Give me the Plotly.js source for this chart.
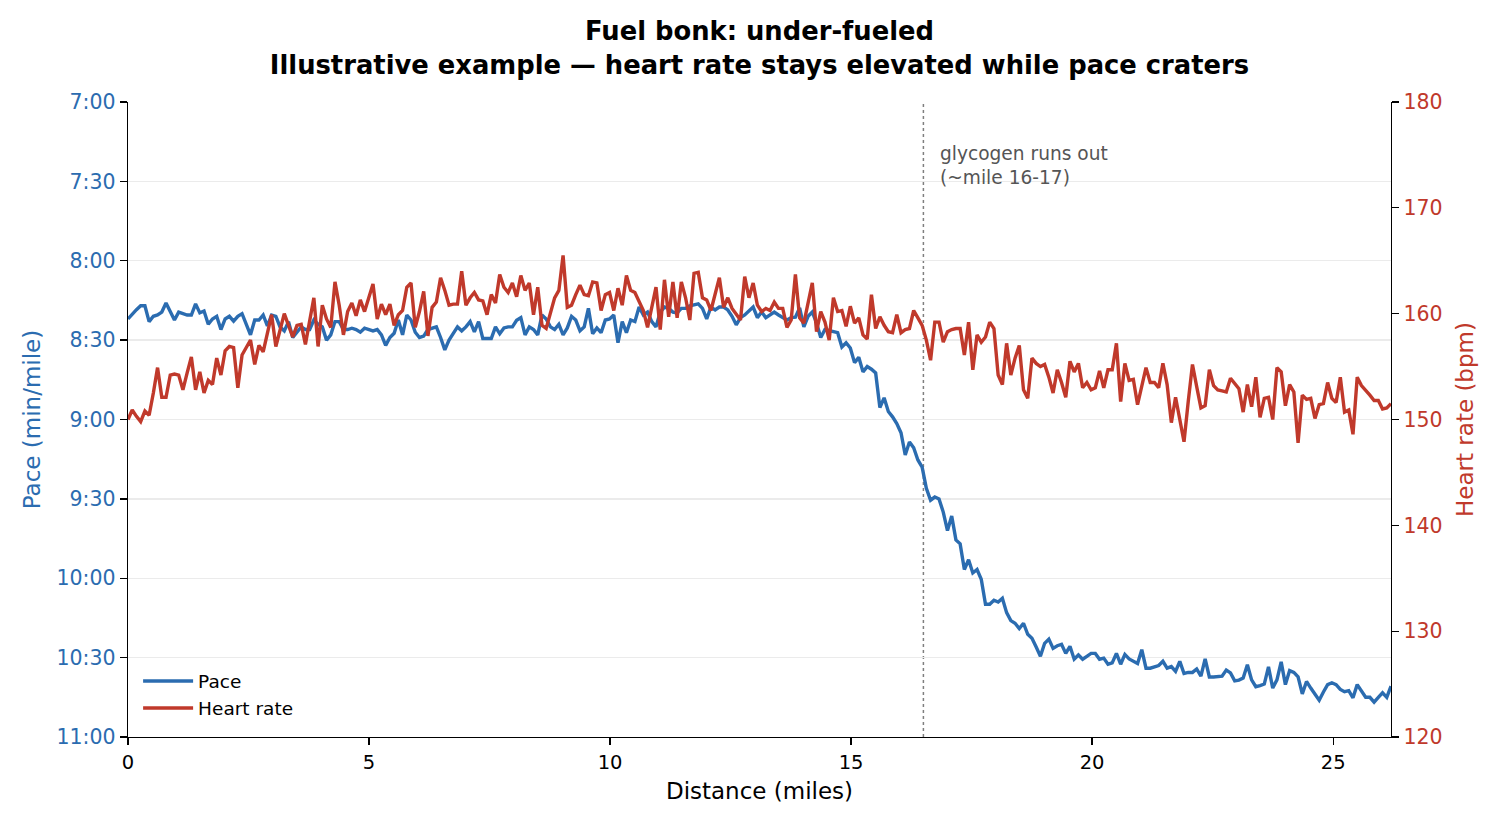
<!DOCTYPE html>
<html>
<head>
<meta charset="utf-8">
<script src="https://cdn.plot.ly/plotly-3.0.1.min.js"></script>
<style>
  html, body { margin: 0; padding: 0; background: #ffffff; }
  #chart { width: 1500px; height: 825px; }
</style>
</head>
<body>
<div id="chart"></div>
<script>
// Marathon course length (miles); samples are spread evenly over it.
const COURSE_MILES = 26.2;

// Pace in seconds per mile, one value per sample.
const paceSec = [
  502, 500, 498.5, 497, 497, 503, 501, 500.5, 499.4, 496,
  499, 502.4, 499.4, 500, 500.5, 500.5, 496.3, 499.7, 499, 504,
  502, 501, 506, 502, 501, 502.8, 501, 500, 504, 508,
  502.4, 502.4, 500.5, 504.6, 500.5, 501, 505, 506.5, 503, 509,
  507, 505, 506, 506, 502.4, 504, 505, 510, 508, 503,
  503, 506, 506, 505.5, 506, 507, 505.5, 506, 506.5, 506,
  508, 512, 509, 507.4, 502.4, 508, 500.5, 502.4, 507, 509,
  508.5, 506, 505.5, 505, 509, 513.7, 510, 507.6, 505, 506.5,
  505, 503, 506.9, 503, 509.4, 509.4, 509.4, 505, 507.6, 505.4,
  505, 505, 502.5, 501.5, 508, 505, 506, 508, 500.5, 502,
  505, 506, 504, 508, 505.4, 501, 502.4, 506.5, 505, 498,
  507.6, 505.4, 507.2, 502.4, 502, 500.5, 511, 503, 507.2, 502.4,
  503, 497.5, 500.5, 499.4, 503, 505, 499.4, 497.5, 498, 499.4,
  499.7, 498, 498, 497, 496.5, 496.3, 498, 502, 497.5, 498.6,
  497.5, 497.5, 498.6, 501, 504.2, 501.5, 500.5, 499, 497.5, 501.5,
  499.4, 501.5, 500.5, 499.4, 500.5, 501.3, 502.4, 501.5, 501.3, 497.8,
  505, 501, 499.4, 503.5, 509, 506, 506.5, 506.9, 507.2, 512.6,
  511, 513, 518.5, 516.5, 522, 520, 521, 522.4, 535.5, 531.8,
  537, 539, 541.5, 545, 553.4, 548.5, 550.7, 555.3, 558, 566,
  570.5, 569.3, 570, 575, 582, 576.5, 585.5, 587, 596.7, 593,
  598, 596.7, 600.4, 609.8, 609.8, 608.3, 609, 607.6, 613, 616,
  617, 619, 617, 621.2, 622.7, 626, 629.5, 624.6, 623, 626.5,
  625.5, 625, 628.4, 625.7, 630.6, 629, 630.6, 629.5, 628.4, 628.4,
  630.6, 630.2, 632.5, 632, 628.4, 632.5, 628.8, 630.5, 631.4, 632.2,
  627, 634, 634, 633.5, 633, 631.4, 634, 633.4, 635.2, 631.4,
  636, 635.6, 635.6, 634.3, 637, 630.5, 637.3, 637.3, 637.3, 637,
  634.7, 635.8, 638.8, 638.5, 637.7, 632.7, 638.4, 641, 640.6, 640,
  633.5, 641.5, 638.4, 631.6, 640.2, 634.9, 635.6, 637.3, 643.7, 639,
  641.5, 644, 646.1, 643, 640.2, 639.5, 640.2, 642, 642.9, 642.5,
  645.2, 640.2, 642.5, 645, 645, 646.8, 645, 643.3, 645, 640.8
];

// Heart rate in beats per minute, one value per sample.
const heartRate = [
  150, 150.9, 150.3, 149.8, 150.8, 150.4, 152.5, 154.9, 152.1, 152.1,
  154.2, 154.3, 154.2, 152.8, 154.4, 155.9, 152.8, 154.5, 152.5, 153.7,
  153.3, 155.8, 154.2, 156.5, 156.9, 156.8, 153, 156.1, 156.8, 157.5,
  155.2, 157, 156.4, 158, 159.9, 156.9, 158.5, 160, 158.9, 157.8,
  158.9, 159, 157.1, 159.5, 161.5, 156.9, 160.8, 159.5, 158.7, 163,
  160.8, 158, 160.2, 161, 159.8, 161.3, 160.2, 161.5, 162.8, 159.5,
  160.9, 159.9, 160.9, 158.9, 159.9, 160.3, 162.5, 162.9, 158.7, 160.2,
  162.1, 157.9, 160.6, 161.1, 163.4, 162.2, 160.8, 160.9, 160.9, 164,
  160.8, 161.5, 162, 161.3, 161.2, 159.9, 161.8, 161, 163.7, 162.5,
  162, 162.9, 161.6, 163.6, 162.2, 162.9, 159.9, 162.5, 158.9, 158.6,
  160, 161.5, 162.2, 165.5, 160.6, 160.8, 161.8, 162.7, 161.8, 161.7,
  163, 162.9, 160.3, 161.8, 162, 160.3, 162.4, 160.8, 163.6, 162.2,
  162, 161.1, 160.3, 158.7, 160.6, 162.5, 158.5, 163.2, 159.7, 163,
  159.6, 163, 161.5, 159.4, 163.8, 163.9, 161.5, 161.3, 160.3, 161.8,
  163.4, 160.6, 161.5, 160.5, 160, 159.4, 163.5, 161.5, 162.9, 160.8,
  160.2, 160.5, 160.3, 161.1, 160.5, 160.5, 158.7, 159.4, 163.7, 159.6,
  159.1, 161, 162.9, 158.3, 160.2, 159.2, 157.5, 161.5, 160.2, 160.3,
  158.8, 160.7, 159.1, 159.6, 158, 157.6, 161.8, 158.6, 159.7, 158.9,
  158.3, 158.2, 159.9, 158.2, 158.5, 158.6, 160.3, 159.6, 158.9, 157.5,
  155.6, 159.2, 159.2, 157.3, 158.3, 158.5, 158.6, 158.6, 156.1, 159.2,
  154.7, 158, 157.3, 157.8, 159.2, 158.6, 154.2, 153.3, 157.2, 154.2,
  155.8, 157, 152.8, 152, 155.8, 155.3, 155, 155.2, 154, 152.5,
  154.7, 153.5, 152.1, 155.5, 154.5, 155.3, 153, 153.5, 152.8, 153,
  154.6, 153, 154.7, 154.7, 157.2, 151.7, 155.3, 153.7, 153.8, 151.4,
  153, 154.9, 153.5, 153.5, 153, 155.3, 153.3, 149.7, 152.1, 150,
  147.9, 151.7, 155.2, 153.1, 151.1, 151.3, 154.7, 153.2, 152.8, 152.7,
  152.6, 153.9, 153.4, 152.9, 150.7, 153.3, 151.2, 154, 150.2, 152,
  152.1, 150, 154.9, 154.5, 151.3, 153.3, 152.6, 147.8, 152.3, 151.9,
  152, 150.1, 151.4, 151.5, 153.5, 152, 151.6, 154, 150.7, 150.9,
  148.6, 154, 153.2, 152.8, 152.3, 151.8, 151.8, 151, 151.1, 151.5
];

// Axis ticks
const paceTickVals = [420, 450, 480, 510, 540, 570, 600, 630, 660];
const paceTickText = ['7:00', '7:30', '8:00', '8:30', '9:00', '9:30', '10:00', '10:30', '11:00'];
const hrTickVals = [120, 130, 140, 150, 160, 170, 180];
const distTickVals = [0, 5, 10, 15, 20, 25];

// Where the glycogen runs out
const bonkMile = 16.5;

// Mile marker of each sample along the course
const distance = paceSec.map((_, i) => i * COURSE_MILES / (paceSec.length - 1));

const BLUE = '#2b6cb0';
const RED = '#c0392b';
const FONT = 'DejaVu Sans, Verdana, sans-serif';

const traces = [
  {
    x: distance, y: paceSec, name: 'Pace', type: 'scatter', mode: 'lines',
    line: { color: BLUE, width: 3.4 }, yaxis: 'y', hoverinfo: 'skip'
  },
  {
    x: distance, y: heartRate, name: 'Heart rate', type: 'scatter', mode: 'lines',
    line: { color: RED, width: 3.4 }, yaxis: 'y2', hoverinfo: 'skip'
  }
];

const layout = {
  width: 1500, height: 825,
  margin: { l: 128, r: 109, t: 102, b: 88 },
  paper_bgcolor: '#ffffff', plot_bgcolor: '#ffffff',
  font: { family: FONT, size: 18.7, color: '#000000' },
  title: {
    text: '<b>Fuel bonk: under-fueled</b><br><b>Illustrative example — heart rate stays elevated while pace craters</b>',
    font: { family: FONT, size: 25.8, color: '#000000' },
    x: 0.5, xref: 'paper', xanchor: 'center',
    y: 0.951, yref: 'container', yanchor: 'top'
  },
  showlegend: true,
  legend: {
    x: 0.008, y: 0.015, xanchor: 'left', yanchor: 'bottom',
    bgcolor: 'rgba(0,0,0,0)', font: { family: FONT, size: 18.5, color: '#000000' },
    traceorder: 'normal', itemwidth: 50
  },
  xaxis: {
    range: [0, COURSE_MILES], tickvals: distTickVals,
    ticks: 'outside', ticklen: 7, tickwidth: 1.3, tickcolor: '#000000',
    showline: true, linecolor: '#000000', linewidth: 1.3,
    showgrid: false, zeroline: false,
    tickfont: { size: 19.5, color: '#000000' },
    title: { text: 'Distance (miles)', font: { size: 23, color: '#000000' }, standoff: 10 }
  },
  yaxis: {
    range: [660, 420], tickvals: paceTickVals, ticktext: paceTickText,
    ticks: 'outside', ticklen: 7, tickwidth: 1.3, tickcolor: '#000000',
    showline: true, linecolor: '#000000', linewidth: 1.3,
    showgrid: true, gridcolor: '#ebebeb', gridwidth: 1.3, zeroline: false,
    tickfont: { size: 20.5, color: BLUE },
    title: { text: 'Pace (min/mile)', font: { size: 23, color: BLUE }, standoff: 9 }
  },
  yaxis2: {
    overlaying: 'y', side: 'right', anchor: 'x',
    range: [120, 180], tickvals: hrTickVals,
    ticks: 'outside', ticklen: 7, tickwidth: 1.3, tickcolor: '#000000',
    showline: true, linecolor: '#000000', linewidth: 1.3,
    showgrid: false, zeroline: false,
    tickfont: { size: 20.5, color: RED },
    title: { text: 'Heart rate (bpm)', font: { size: 23, color: RED }, standoff: 15 }
  },
  shapes: [{
    type: 'line', xref: 'x', x0: bonkMile, x1: bonkMile,
    yref: 'paper', y0: 0, y1: 1, layer: 'below',
    line: { color: '#7f7f7f', width: 1.5, dash: 'dot' }
  }],
  annotations: [{
    xref: 'x', x: bonkMile + 0.3, yref: 'paper', y: 0.939,
    xanchor: 'left', yanchor: 'top', align: 'left', showarrow: false,
    text: 'glycogen runs out<br>(~mile 16-17)',
    font: { family: FONT, size: 18.6, color: '#555555' }
  }]
};

Plotly.newPlot('chart', traces, layout, { displayModeBar: false, staticPlot: true });
</script>
</body>
</html>
